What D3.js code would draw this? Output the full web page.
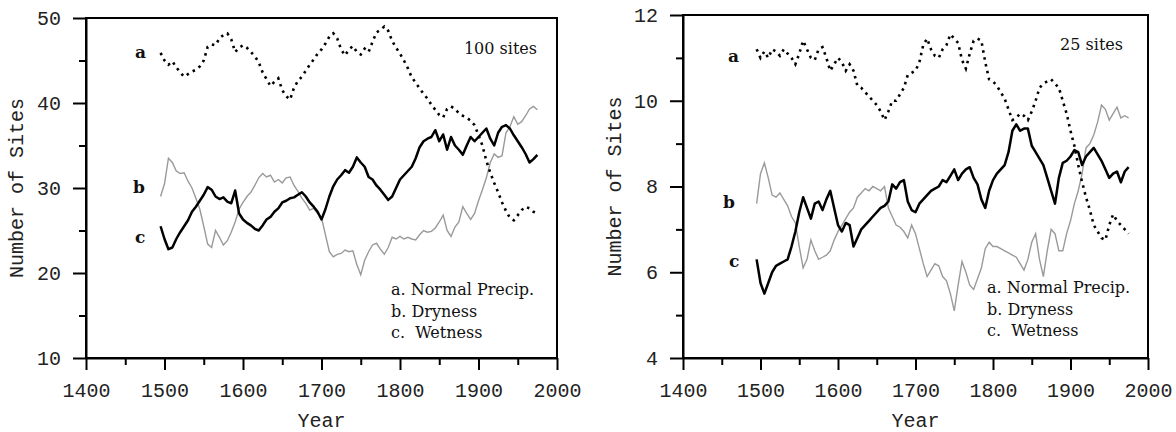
<!DOCTYPE html>
<html>
<head>
  <meta charset="utf-8">
  <title>Number of Sites by Year</title>
  <script src="https://d3js.org/d3.v7.min.js"></script>
  <style>
    body { margin: 0; background: #fff; }
    .tick text { font-family: "Liberation Mono", "Courier New", monospace; font-size: 20px; fill: #222; }
    .title { font-family: "Liberation Mono", "Courier New", monospace; font-size: 20px; fill: #222; }
    .serif { font-family: "DejaVu Serif", serif; font-size: 16px; fill: #111; white-space: pre; }
  </style>
</head>
<body>
<svg id="chart" width="1176" height="432"></svg>
<script>
// sample years (5-year steps)
const years = [1495,1500,1505,1510,1515,1520,1525,1530,1535,1540,1545,1550,1555,1560,1565,1570,1575,1580,1585,1590,
  1595,1600,1605,1610,1615,1620,1625,1630,1635,1640,1645,1650,1655,1660,1665,1670,1675,1680,1685,1690,
  1695,1700,1705,1710,1715,1720,1725,1730,1735,1740,1745,1750,1755,1760,1765,1770,1775,1780,1785,1790,
  1795,1800,1805,1810,1815,1820,1825,1830,1835,1840,1845,1850,1855,1860,1865,1870,1875,1880,1885,1890,
  1895,1900,1905,1910,1915,1920,1925,1930,1935,1940,1945,1950,1955,1960,1965,1970,1975];

// 100 sites panel
const normal100 = [45.9,45.0,44.5,44.9,44.2,43.6,43.1,43.4,43.7,43.9,44.3,45.0,46.6,46.9,46.8,47.6,48.0,48.2,47.5,46.0,
  46.5,46.8,46.5,46.0,45.5,44.8,43.6,42.8,42.0,42.5,42.9,41.5,40.8,40.4,41.8,42.6,43.1,43.8,44.5,45.1,
  45.8,46.3,47.0,47.8,48.2,47.6,46.3,45.6,46.3,46.7,46.0,45.7,46.4,46.0,47.2,48.3,48.6,49.0,48.5,47.3,
  46.5,45.8,45.0,44.1,43.0,42.4,41.7,41.1,40.5,39.8,39.2,38.6,38.3,39.3,39.6,39.3,38.8,38.5,38.3,37.9,
  37.4,36.2,35.0,33.2,31.8,30.6,29.5,28.3,27.3,26.5,26.2,26.8,27.4,27.8,27.6,27.2,27.0];
const dry100 = [29.0,30.5,33.5,33.0,32.0,31.7,31.8,30.8,30.0,28.8,27.5,25.5,23.4,23.0,25.0,24.2,23.3,23.8,24.8,26.0,
  27.5,28.3,29.0,29.5,30.3,31.2,31.7,31.3,31.5,30.7,31.0,30.6,31.2,31.3,30.3,29.6,28.8,28.2,27.4,27.6,
  27.0,26.5,24.5,22.5,21.9,22.2,22.3,22.7,22.5,22.6,21.0,19.8,21.5,22.5,23.3,23.5,22.8,22.2,23.0,24.2,
  24.0,24.3,24.0,24.2,24.0,23.9,24.5,25.0,24.8,24.9,25.3,26.0,26.8,25.0,24.3,25.4,26.0,27.8,27.0,26.3,
  27.0,28.5,29.8,31.2,33.0,34.0,33.6,33.8,36.5,37.2,38.4,37.5,37.8,38.5,39.3,39.6,39.2];
const wet100 = [25.5,24.0,22.8,23.0,24.0,24.8,25.5,26.2,27.2,27.8,28.5,29.2,30.1,29.8,29.0,28.7,28.9,28.4,28.2,29.7,
  27.0,26.3,25.9,25.6,25.2,25.0,25.6,26.3,26.6,27.2,27.6,28.3,28.5,28.8,28.9,29.2,29.5,29.0,28.3,27.8,
  27.2,26.3,27.5,29.0,30.2,31.0,31.5,32.1,31.8,32.5,33.6,33.0,32.5,31.3,31.0,30.3,29.8,29.2,28.6,29.0,
  30.0,31.0,31.5,32.0,32.5,33.5,34.8,35.5,35.8,36.0,36.8,35.5,36.3,34.5,36.0,35.0,34.5,33.9,35.0,36.0,
  35.5,36.0,36.5,37.0,35.8,35.0,36.5,37.2,37.4,37.0,36.2,35.5,34.8,34.0,33.0,33.4,33.9];

// 25 sites panel
const normal25 = [11.2,11.0,11.15,11.0,11.2,11.15,11.05,11.2,11.1,11.0,10.85,11.1,11.4,11.2,11.0,10.95,11.2,11.25,11.0,10.7,
  10.85,11.0,10.9,10.7,10.85,10.7,10.35,10.3,10.2,10.1,10.0,9.9,9.75,9.55,9.75,10.0,10.0,10.15,10.3,10.6,
  10.65,10.7,10.9,11.3,11.45,11.2,11.05,11.0,11.2,11.3,11.55,11.45,11.35,10.95,10.75,11.1,11.4,11.45,11.4,10.9,
  10.5,10.45,10.35,10.2,10.05,9.8,9.55,9.6,9.7,9.65,9.55,9.75,10.0,10.3,10.4,10.45,10.5,10.4,10.3,10.0,
  9.7,9.3,8.95,8.5,8.1,7.75,7.45,7.1,6.95,6.8,6.75,7.1,7.35,7.2,7.1,7.0,6.9];
const dry25 = [7.6,8.3,8.55,8.2,7.8,7.75,7.85,7.7,7.55,7.3,7.15,6.6,6.1,6.3,6.75,6.5,6.3,6.35,6.4,6.5,
  6.75,6.95,7.1,7.25,7.4,7.5,7.75,7.85,7.95,7.9,8.0,7.95,7.9,8.0,7.5,7.3,7.1,7.05,6.95,6.8,
  7.1,6.9,6.55,6.2,5.9,6.05,6.2,6.15,5.9,5.8,5.5,5.1,5.7,6.25,6.0,5.7,5.6,5.85,6.1,6.55,
  6.7,6.6,6.6,6.55,6.5,6.45,6.4,6.35,6.2,6.05,6.3,6.7,6.9,6.3,5.9,6.5,7.0,6.9,6.5,6.5,
  6.9,7.2,7.6,7.9,8.3,8.9,9.0,9.2,9.5,9.9,9.8,9.55,9.7,9.85,9.6,9.65,9.6];
const wet25 = [6.3,5.75,5.5,5.75,6.0,6.15,6.2,6.25,6.3,6.6,6.95,7.4,7.75,7.5,7.25,7.6,7.65,7.45,7.7,7.9,
  7.5,7.1,6.95,7.15,7.1,6.6,6.8,7.0,7.1,7.2,7.3,7.4,7.5,7.55,7.65,8.05,7.95,8.1,8.15,7.65,
  7.45,7.4,7.6,7.7,7.8,7.9,7.95,8.0,8.15,8.1,8.25,8.4,8.15,8.3,8.4,8.45,8.2,8.05,7.7,7.5,
  7.9,8.15,8.3,8.4,8.5,8.8,9.3,9.45,9.3,9.35,9.35,8.95,8.8,8.65,8.5,8.2,7.9,7.6,8.2,8.55,
  8.6,8.7,8.85,8.8,8.5,8.7,8.8,8.9,8.75,8.6,8.4,8.2,8.3,8.35,8.1,8.35,8.45];

const xTicks = [1400, 1500, 1600, 1700, 1800, 1900, 2000];
const xMinor = [1450, 1550, 1650, 1750, 1850, 1950];
const legendLabels = ["a. Normal Precip.", "b. Dryness", "c.  Wetness"];

const svg = d3.select("#chart");

const panels = [
  {
    box: { left: 86, right: 557, top: 18, bottom: 358 },
    yDomain: [10, 50], yTicks: [10, 20, 30, 40, 50], yMinor: [15, 25, 35, 45],
    a: normal100, b: dry100, c: wet100,
    sites: "100 sites", sitesPos: [537, 54],
    letters: [[135, 58], [133, 193], [135, 243]],
    legendPos: [391, 295], titleX: 23
  },
  {
    box: { left: 683, right: 1148, top: 15, bottom: 358 },
    yDomain: [4, 12], yTicks: [4, 6, 8, 10, 12], yMinor: [5, 7, 9, 11],
    a: normal25, b: dry25, c: wet25,
    sites: "25 sites", sitesPos: [1123, 50],
    letters: [[728, 62], [723, 208], [729, 267]],
    legendPos: [987, 293], titleX: 621
  }
];

panels.forEach((p) => {
  const b = p.box;
  const x = d3.scaleLinear().domain([1400, 2000]).range([b.left, b.right]);
  const y = d3.scaleLinear().domain(p.yDomain).range([b.bottom, b.top]);

  // minor ticks
  svg.append("g").attr("transform", `translate(${b.left},0)`)
    .call(d3.axisLeft(y).tickValues(p.yMinor).tickSize(7).tickSizeOuter(0).tickFormat(""))
    .call((g) => g.select(".domain").remove());
  svg.append("g").attr("transform", `translate(0,${b.bottom})`)
    .call(d3.axisBottom(x).tickValues(xMinor).tickSize(7).tickSizeOuter(0).tickFormat(""))
    .call((g) => g.select(".domain").remove());

  // major ticks
  svg.append("g").attr("transform", `translate(${b.left},0)`)
    .call(d3.axisLeft(y).tickValues(p.yTicks).tickSize(13).tickSizeOuter(0).tickPadding(12).tickFormat(d3.format("d")));
  svg.append("g").attr("transform", `translate(0,${b.bottom})`)
    .call(d3.axisBottom(x).tickValues(xTicks).tickSize(12).tickSizeOuter(0).tickPadding(13).tickFormat(d3.format("d")));

  svg.selectAll(".tick line").attr("stroke", "#000").attr("stroke-width", 2);
  svg.selectAll(".domain").attr("stroke", "#000").attr("stroke-width", 2);

  // frame
  svg.append("rect")
    .attr("x", b.left).attr("y", b.top)
    .attr("width", b.right - b.left).attr("height", b.bottom - b.top)
    .attr("fill", "none").attr("stroke", "#000").attr("stroke-width", 2);

  const line = (vals) => d3.line().x((d, i) => x(years[i])).y((d) => y(d))(vals);

  // b: dryness (gray)
  svg.append("path").attr("d", line(p.b))
    .attr("fill", "none").attr("stroke", "#9a9a9a").attr("stroke-width", 1.4);
  // c: wetness (solid)
  svg.append("path").attr("d", line(p.c))
    .attr("fill", "none").attr("stroke", "#000").attr("stroke-width", 2.5)
    .attr("stroke-linejoin", "round");
  // a: normal (dotted)
  svg.append("path").attr("d", line(p.a))
    .attr("fill", "none").attr("stroke", "#000").attr("stroke-width", 2.6)
    .attr("stroke-dasharray", "2.5,4.5");

  // series letters
  ["a", "b", "c"].forEach((t, i) => {
    svg.append("text").attr("class", "serif")
      .attr("x", p.letters[i][0]).attr("y", p.letters[i][1])
      .style("font-weight", "bold").style("font-size", "17px")
      .text(t);
  });

  svg.append("text").attr("class", "serif")
    .attr("x", p.sitesPos[0]).attr("y", p.sitesPos[1])
    .attr("text-anchor", "end")
    .text(p.sites);

  legendLabels.forEach((t, i) => {
    svg.append("text").attr("class", "serif")
      .attr("x", p.legendPos[0]).attr("y", p.legendPos[1] + i * 21.5)
      .text(t);
  });

  // axis titles
  svg.append("text").attr("class", "title")
    .attr("x", (b.left + b.right) / 2).attr("y", 427)
    .attr("text-anchor", "middle")
    .text("Year");
  svg.append("text").attr("class", "title")
    .attr("transform", `translate(${p.titleX},${(b.top + b.bottom) / 2}) rotate(-90)`)
    .attr("text-anchor", "middle")
    .text("Number of Sites");
});
</script>
</body>
</html>
